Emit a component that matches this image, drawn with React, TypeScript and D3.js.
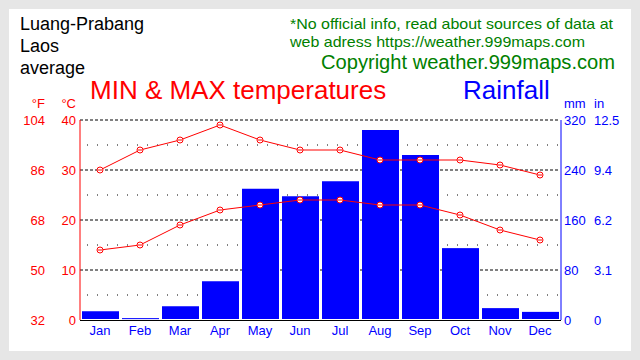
import React from 'react'
import * as d3 from 'd3'

const MONTHS = ['Jan', 'Feb', 'Mar', 'Apr', 'May', 'Jun', 'Jul', 'Aug', 'Sep', 'Oct', 'Nov', 'Dec']
const maxTemp = [30, 34, 36, 39, 36, 34, 34, 32, 32, 32, 31, 29]
const minTemp = [14, 15, 19, 22, 23, 24, 24, 23, 23, 21, 18, 16]
const rainfall = [14, 3, 22, 62, 210, 198, 222, 304, 264, 115, 19, 13]

const celsiusTicks = [0, 10, 20, 30, 40]
const fahrenheitLabels = ['32', '50', '68', '86', '104']
const mmTicks = [0, 80, 160, 240, 320]
const inchLabels = ['0', '3.1', '6.2', '9.4', '12.5']
const minorTicks = [5, 15, 25, 35]

const W = 640
const H = 360
const plot = { left: 80, right: 560, top: 120, bottom: 320 }
const font = 'Arial, "Liberation Sans", sans-serif'
const RED = '#ff0000'
const BLUE = '#0000ff'
const GREEN = '#008000'

function Marker({ x, y }: { x: number, y: number }) {
  return (
    <g>
      <circle cx={x} cy={y} r={3} fill="white" stroke={RED} strokeWidth={1} />
      <line x1={x - 2} x2={x + 2} y1={y} y2={y} stroke={RED} strokeWidth={1} />
    </g>
  )
}

export default function App() {
  const x = d3.scaleBand<string>().domain(MONTHS).range([plot.left, plot.right])
  const yT = d3.scaleLinear().domain([0, 40]).range([plot.bottom, plot.top])
  const yR = d3.scaleLinear().domain([0, 320]).range([plot.bottom, plot.top])
  const bw = x.bandwidth()
  const cx = (m: string) => (x(m) as number) + bw / 2

  const line = d3.line<number>()
    .x((d, i) => cx(MONTHS[i]))
    .y(d => yT(d))

  return (
    <svg width={W} height={H} style={{ position: 'absolute', left: 0, top: 0, fontFamily: font }}>
      <rect x={0} y={0} width={W} height={H} fill="#e6e6e6" />
      <rect x={9} y={9} width={622} height={342} fill="white" />

      <g fontSize={18} fill="black">
        <text x={20} y={30}>Luang-Prabang</text>
        <text x={20} y={52}>Laos</text>
        <text x={20} y={74}>average</text>
      </g>
      <g fill={GREEN}>
        <text x={290} y={29} fontSize={15} textLength={323} lengthAdjust="spacingAndGlyphs">*No official info, read about sources of data at</text>
        <text x={290} y={47} fontSize={15} textLength={295} lengthAdjust="spacingAndGlyphs">web adress https://weather.999maps.com</text>
        <text x={321} y={69} fontSize={20} textLength={294} lengthAdjust="spacingAndGlyphs">Copyright weather.999maps.com</text>
      </g>
      <text x={90} y={99} fontSize={26} fill={RED}>MIN &amp; MAX temperatures</text>
      <text x={463} y={99} fontSize={26} fill={BLUE}>Rainfall</text>

      {/* grid */}
      {celsiusTicks.filter(t => t > 0).map(t => (
        <line key={'g' + t} x1={plot.left} x2={plot.right} y1={yT(t)} y2={yT(t)}
          stroke="black" strokeDasharray="3,2" />
      ))}
      {minorTicks.map(t => (
        <line key={'m' + t} x1={plot.left + 7} x2={plot.right} y1={yT(t)} y2={yT(t)}
          stroke="black" strokeDasharray="1,9" />
      ))}

      {/* rainfall bars */}
      {rainfall.map((v, i) => (
        <rect key={MONTHS[i]} x={(x(MONTHS[i]) as number) + 2} width={bw - 3}
          y={yR(v)} height={Math.max(1, yR(0) - yR(v) - 1)} fill={BLUE} />
      ))}

      {/* temperature lines */}
      <path d={line(maxTemp) as string} fill="none" stroke={RED} strokeWidth={1} />
      <path d={line(minTemp) as string} fill="none" stroke={RED} strokeWidth={1} />
      {maxTemp.map((v, i) => <Marker key={'mx' + i} x={cx(MONTHS[i])} y={yT(v)} />)}
      {minTemp.map((v, i) => <Marker key={'mn' + i} x={cx(MONTHS[i])} y={yT(v)} />)}

      {/* axes */}
      <line x1={plot.left} x2={plot.left} y1={plot.top} y2={plot.bottom} stroke={RED} />
      <line x1={plot.right + 1} x2={plot.right + 1} y1={plot.top} y2={plot.bottom} stroke={BLUE} />
      <line x1={plot.left} x2={plot.right + 1} y1={plot.bottom + 0.5} y2={plot.bottom + 0.5} stroke="black" />

      <g fontSize={13} fill={RED} textAnchor="end">
        <text x={45} y={108}>°F</text>
        <text x={76} y={108}>°C</text>
        {celsiusTicks.map((t, i) => (
          <g key={'l' + t}>
            <text x={45} y={yT(t) + 5}>{fahrenheitLabels[i]}</text>
            <text x={76} y={yT(t) + 5}>{t}</text>
          </g>
        ))}
      </g>
      <g fontSize={13} fill={BLUE}>
        <text x={564} y={108}>mm</text>
        <text x={594} y={108}>in</text>
        {mmTicks.map((t, i) => (
          <g key={'r' + t}>
            <text x={564} y={yR(t) + 5}>{t}</text>
            <text x={594} y={yR(t) + 5}>{inchLabels[i]}</text>
          </g>
        ))}
      </g>
      <g fontSize={13} fill={BLUE} textAnchor="middle">
        {MONTHS.map(m => <text key={m} x={cx(m)} y={335}>{m}</text>)}
      </g>
    </svg>
  )
}
